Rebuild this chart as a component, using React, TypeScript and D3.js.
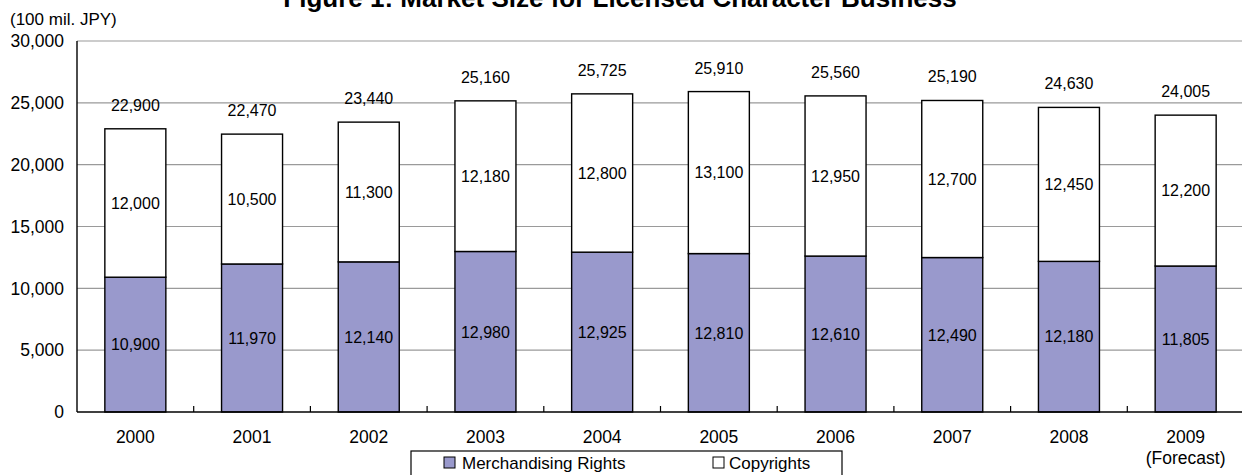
import React from "react";
import * as d3 from "d3";

const years = ["2000", "2001", "2002", "2003", "2004", "2005", "2006", "2007", "2008", "2009"];
const yearSub = ["", "", "", "", "", "", "", "", "", "(Forecast)"];
const merchandising = [10900, 11970, 12140, 12980, 12925, 12810, 12610, 12490, 12180, 11805];
const copyrights = [12000, 10500, 11300, 12180, 12800, 13100, 12950, 12700, 12450, 12200];
const totals = [22900, 22470, 23440, 25160, 25725, 25910, 25560, 25190, 24630, 24005];
const yTicks = [0, 5000, 10000, 15000, 20000, 25000, 30000];

const W = 1242;
const H = 475;
const FONT = "'Liberation Sans', Arial, Helvetica, sans-serif";

export default function App() {
  const left = 77;
  const right = 1244;
  const top = 41;
  const bottom = 412;

  const x = d3.scaleBand<string>().domain(years).range([left, right]).paddingInner(0).paddingOuter(0);
  const y = d3.scaleLinear().domain([0, 30000]).range([bottom, top]);
  const fmt = d3.format(",");
  const bw = 61;
  const bx = (yr: string) => (x(yr) as number) + x.bandwidth() / 2 - bw / 2;

  return (
    <svg
      width={W}
      height={H}
      style={{ position: "absolute", left: 0, top: 0, background: "#fff" }}
      fontFamily={FONT}
    >
      <rect x={0} y={0} width={W} height={H} fill="#fff" />
      <text x={620} y={7} textAnchor="middle" fontSize={26} fontWeight="bold" fill="#000">
        Figure 1: Market Size for Licensed Character Business
      </text>
      <text x={10} y={25} fontSize={17} fill="#000">(100 mil. JPY)</text>

      {/* gridlines */}
      {yTicks.filter((t) => t > 0).map((t) => (
        <line key={"g" + t} x1={left} x2={right} y1={y(t)} y2={y(t)} stroke="#9a9a9a" strokeWidth={1.2} />
      ))}

      {/* y tick labels */}
      {yTicks.map((t) => (
        <text key={"yl" + t} x={64} y={y(t)} dy="0.36em" textAnchor="end" fontSize={17.5} fill="#000">
          {fmt(t)}
        </text>
      ))}

      {/* bars */}
      {years.map((yr, i) => {
        const m = merchandising[i];
        const c = copyrights[i];
        const x0 = bx(yr);
        return (
          <g key={yr}>
            <rect x={x0} y={y(m)} width={bw} height={y(0) - y(m)} fill="#9999cc" stroke="#000" strokeWidth={1.4} />
            <rect x={x0} y={y(m + c)} width={bw} height={y(m) - y(m + c)} fill="#fff" stroke="#000" strokeWidth={1.4} />
            <text x={x0 + bw / 2} y={(y(0) + y(m)) / 2} dy="0.36em" textAnchor="middle" fontSize={16} fill="#000">
              {fmt(m)}
            </text>
            <text x={x0 + bw / 2} y={(y(m) + y(m + c)) / 2} dy="0.36em" textAnchor="middle" fontSize={16} fill="#000">
              {fmt(c)}
            </text>
            <text x={x0 + bw / 2} y={y(totals[i]) - 18} textAnchor="middle" fontSize={16} fill="#000">
              {fmt(totals[i])}
            </text>
          </g>
        );
      })}

      {/* axes */}
      <line x1={left} x2={left} y1={top} y2={bottom} stroke="#000" strokeWidth={1.4} />
      <line x1={left} x2={right} y1={bottom} y2={bottom} stroke="#000" strokeWidth={1.4} />
      {years.slice(1).map((yr) => (
        <line key={"xt" + yr} x1={x(yr)} x2={x(yr)} y1={bottom} y2={bottom - 6} stroke="#000" strokeWidth={1.2} />
      ))}

      {/* x labels */}
      {years.map((yr, i) => (
        <g key={"xl" + yr}>
          <text x={(x(yr) as number) + x.bandwidth() / 2} y={443} textAnchor="middle" fontSize={17.5} fill="#000">
            {yr}
          </text>
          {yearSub[i] && (
            <text x={(x(yr) as number) + x.bandwidth() / 2} y={464} textAnchor="middle" fontSize={17.5} fill="#000">
              {yearSub[i]}
            </text>
          )}
        </g>
      ))}

      {/* legend */}
      <rect x={411} y={451} width={431} height={30} fill="#fff" stroke="#000" strokeWidth={1.2} />
      <rect x={444} y={457} width={11} height={11} fill="#9999cc" stroke="#000" strokeWidth={1} />
      <text x={462} y={469} fontSize={17} fill="#000">Merchandising Rights</text>
      <rect x={713} y={457} width={11} height={11} fill="#fff" stroke="#000" strokeWidth={1} />
      <text x={729} y={469} fontSize={17} fill="#000">Copyrights</text>
    </svg>
  );
}
